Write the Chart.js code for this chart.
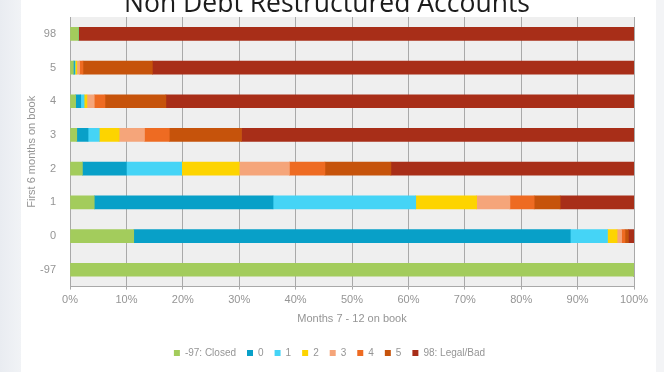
<!DOCTYPE html>
<html>
<head>
<meta charset="utf-8">
<script src="https://cdn.jsdelivr.net/npm/chart.js@4.4.0/dist/chart.umd.min.js"></script>
<style>
  html, body { margin: 0; padding: 0; background: #ffffff; }
  #wrap { position: relative; width: 664px; height: 372px; overflow: hidden; }
  #edgeL { position: absolute; left: 0; top: 0; width: 21px; height: 372px;
           background: linear-gradient(to right, #e9ecf1, #f1f3f6); }
  #edgeR { position: absolute; right: 0; top: 0; width: 8px; height: 372px;
           background: #f3f4f6; }
  canvas { position: absolute; left: 0; top: 0; }
</style>
</head>
<body>
<div id="wrap">
  <div id="edgeL"></div>
  <div id="edgeR"></div>
  <canvas id="chart" width="664" height="372"></canvas>
</div>
<script>
  // Status in months 1-6 (rows, top to bottom)
  var categories = ['98', '5', '4', '3', '2', '1', '0', '-97'];

  // Status in months 7-12, share of accounts (%) per row
  var seriesNames = ['-97: Closed', '0', '1', '2', '3', '4', '5', '98: Legal/Bad'];
  var stClosed = [1.5, 0.6, 1.0, 1.2, 2.2, 4.3, 11.3, 100];
  var st0      = [0, 0.2, 0.9, 2.0, 7.8, 31.7, 77.4, 0];
  var st1      = [0, 0.1, 0.6, 2.0, 9.8, 25.3, 6.6, 0];
  var st2      = [0, 0.3, 0.5, 3.5, 10.2, 10.8, 1.7, 0];
  var st3      = [0, 0.5, 1.3, 4.5, 8.9, 5.9, 0.8, 0];
  var st4      = [0, 0.6, 1.9, 4.4, 6.3, 4.3, 0.6, 0];
  var st5      = [0, 12.3, 10.8, 12.8, 11.7, 4.6, 0.6, 0];
  var stLegal  = [98.5, 85.4, 83.0, 69.6, 43.1, 13.1, 1.0, 0];

  var xTicks = [0, 10, 20, 30, 40, 50, 60, 70, 80, 90, 100];

  var colors = ['#a3cc5c', '#08a0c8', '#45d4f6', '#fdd400', '#f5a57a', '#ee6b22', '#c6530b', '#a82e18'];
  var values = [stClosed, st0, st1, st2, st3, st4, st5, stLegal];

  var datasets = seriesNames.map(function (name, i) {
    return {
      label: name,
      data: values[i],
      backgroundColor: colors[i],
      borderWidth: 0,
      barThickness: 13
    };
  });

  var font = '"Liberation Sans", Arial, sans-serif';
  var grey = '#959595';

  // grey plot background + clipped slide heading
  var decor = {
    id: 'decor',
    beforeDraw: function (chart) {
      var a = chart.chartArea, cx = chart.ctx;
      cx.save();
      cx.fillStyle = '#efefef';
      cx.fillRect(a.left, a.top, a.right - a.left, a.bottom - a.top);
      cx.restore();
    },
    afterDraw: function (chart) {
      var cx = chart.ctx;
      cx.save();
      cx.fillStyle = '#1c1c1c';
      cx.font = '26.5px "Open Sans", ' + font;
      cx.textAlign = 'center';
      cx.textBaseline = 'alphabetic';
      cx.fillText('Non Debt Restructured Accounts', 327, 12);
      cx.restore();
    }
  };

  new Chart(document.getElementById('chart'), {
    type: 'bar',
    data: { labels: categories, datasets: datasets },
    options: {
      indexAxis: 'y',
      responsive: false,
      animation: false,
      layout: { padding: { top: 17, left: 25, right: 30, bottom: 4 } },
      plugins: {
        legend: {
          position: 'bottom',
          labels: {
            boxWidth: 6,
            boxHeight: 6,
            padding: 11,
            color: grey,
            font: { family: font, size: 10 }
          }
        },
        tooltip: { enabled: false }
      },
      scales: {
        x: {
          stacked: true,
          min: 0,
          max: 100,
          afterBuildTicks: function (s) {
            s.ticks = xTicks.map(function (v) { return { value: v }; });
          },
          ticks: {
            callback: function (v) { return v + '%'; },
            color: grey,
            font: { family: font, size: 11 },
            padding: 4
          },
          grid: { color: '#a9a9a9', lineWidth: 1, tickLength: 3 },
          border: { color: '#a9a9a9' },
          title: {
            display: true,
            text: 'Months 7 - 12 on book',
            color: grey,
            font: { family: font, size: 11 },
            padding: { top: 2, bottom: 11 }
          }
        },
        y: {
          stacked: true,
          afterFit: function (s) { s.width = 45; },
          ticks: {
            color: grey,
            font: { family: font, size: 11 },
            padding: 6
          },
          grid: { display: false },
          border: { color: '#a9a9a9' },
          title: {
            display: true,
            text: 'First 6 months on book',
            color: grey,
            font: { family: font, size: 11 },
            padding: 0
          }
        }
      }
    },
    plugins: [decor]
  });
</script>
</body>
</html>
